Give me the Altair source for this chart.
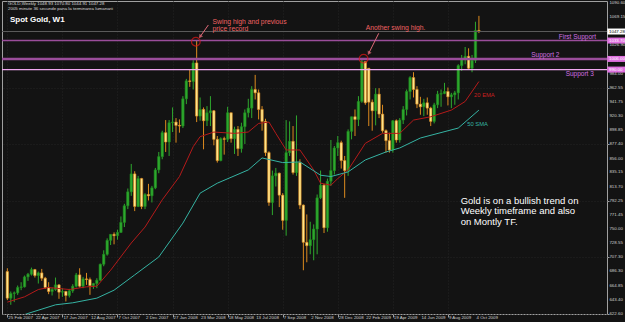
import altair as alt
import pandas as pd

# ---------------- data ----------------
opens = [686,646,653,654,662,663,678,682,689,680,684,676,662,656,659,666,655,656,650,657,
         664,681,664,675,674,665,668,673,697,712,733,742,740,745,760,785,806,833,784,826,
         784,802,800,812,839,859,895,881,910,911,906,905,946,973,972,1000,920,930,913,925,
         928,885,853,886,885,925,886,900,871,904,925,932,960,955,930,912,865,790,830,834,
         801,763,865,882,835,850,786,730,725,734,750,797,816,752,822,838,872,880,853,838,
         897,919,915,942,1002,992,941,928,953,923,898,883,869,913,884,914,930,957,978,960,
         938,934,940,932,912,937,953,954,957,949,952,955,996,1006,1010,992,1004,1048.93]
highs = [691,656,656,665,670,680,684,692,690,686,690,678,670,662,677,667,661,657,660,667,
         684,691,678,684,677,669,676,698,718,736,742,745,749,769,788,811,848,837,830,827,
         804,818,815,842,866,898,914,914,933,917,915,950,976,990,1004,1033,948,933,935,950,
         929,890,888,889,934,925,904,905,910,930,946,965,982,960,935,916,867,838,842,835,
         804,914,912,905,921,855,787,772,761,757,802,838,818,826,884,875,890,883,860,900,
         919,930,950,1007,1000,949,945,962,962,937,900,895,914,915,917,935,960,980,986,965,
         949,946,948,934,940,958,960,970,963,955,958,998,1012,1024,1022,1012,1062,1070.80]
lows = [643,636,640,651,658,662,672,680,677,668,672,660,652,650,657,645,648,641,647,654,
        662,662,661,666,651,660,661,672,694,710,726,727,734,744,753,780,800,777,783,780,
        780,793,790,810,834,855,866,860,896,880,895,902,938,964,960,911,913,870,905,905,
        876,850,852,862,881,880,863,860,865,878,918,917,945,915,898,860,785,771,814,783,
        749,740,860,832,830,780,688,700,712,703,712,795,744,746,815,832,860,841,797,830,
        885,890,905,940,937,905,898,906,917,895,865,865,865,880,880,908,921,945,948,932,
        922,920,922,905,909,932,934,953,936,932,937,945,988,998,990,986,1000,1044.91]
closes = [646,653,654,662,663,678,682,689,680,684,676,662,656,659,666,655,656,650,657,664,
          681,664,675,674,665,668,673,697,712,733,742,740,745,760,785,806,833,784,826,784,
          802,800,812,839,859,895,881,910,911,906,905,946,973,972,1000,920,930,913,925,928,
          885,853,886,885,925,886,900,871,904,925,932,960,955,930,912,865,790,830,834,801,
          763,865,882,835,850,786,730,725,734,750,797,816,752,822,838,872,880,853,838,897,
          919,915,942,1002,940,941,928,953,923,898,883,869,913,884,914,930,957,978,960,938,
          934,940,932,912,937,953,954,957,949,952,955,996,1006,1010,992,1004,1049,1047.28]

# moving averages (week index, price)
ema_idx = [0,5,9,12,18,23,26,30,36,40,45,50,54,56,60,66,70,73,76,78,81,85,89,91,94,96,99,104,109,114,118,123,129,133,137]
ema_val = [640,648,659,662,659,663,664,688,729,753,794,829,874,889,896,894,896,909,911,894,869,869,839,819,816,826,839,879,894,894,914,919,929,942,972]
sma_idx = [0,6,14,19,26,31,37,44,51,56,61,70,74,80,85,91,94,99,104,110,114,120,131,137]
sma_val = [612,623,636,639,646,658,681,708,759,804,819,839,857,850,851,831,829,836,854,866,872,887,902,929]

x_labels = ["25 Feb 2007","22 Apr 2007","17 Jun 2007","12 Aug 2007","7 Oct 2007","2 Dec 2007",
            "27 Jan 2008","23 Mar 2008","18 May 2008","13 Jul 2008","7 Sep 2008","2 Nov 2008",
            "28 Dec 2008","22 Feb 2009","19 Apr 2009","14 Jun 2009","9 Aug 2009","4 Oct 2009"]
x_label_idx = list(range(0, 8 * len(x_labels), 8))
y_ticks = [622.60,643.40,664.85,686.30,707.30,728.55,750.00,771.45,792.25,813.70,835.15,856.00,
           877.40,898.85,920.30,941.75,962.55,984.00,1005.45,1026.90,1048.35,1069.15,1090.60]

support_names = ["First Support", "Support 2", "Support 3"]
support_prices = [1033.70, 1006.00, 990.00]
bid_price = 1047.28

# ---------------- styling ----------------
BG = "#131313"
GREEN = "#2ea82e"
BEAR_FILL = "#ffe58a"
BEAR_EDGE = "#dc8a1e"
AXIS_TXT = "#d0d0d0"
FONT = "Liberation Sans, Arial"

n = len(opens)
df = pd.DataFrame({"i": list(range(n)), "o": opens, "h": highs, "l": lows, "c": closes})
df["dir"] = ["up" if c >= o else "down" for o, c in zip(opens, closes)]
df["top"] = df[["o", "c"]].max(axis=1)
df["bot"] = df[["o", "c"]].min(axis=1)

X = alt.Scale(domain=[-0.1, 172.76], nice=False, zero=False)
Y = alt.Scale(domain=[622.15, 1093.2], nice=False, zero=False)

xaxis = alt.Axis(values=x_label_idx, labels=False, orient="bottom", title=None,
                 tickColor="#a0a0a0", tickSize=3, domain=False,
                 grid=True, gridColor="#242424", gridDash=[1, 2])
yaxis = alt.Axis(values=y_ticks, labels=False, orient="right", title=None,
                 tickColor="#a0a0a0", tickSize=2, domain=False,
                 grid=True, gridColor="#242424", gridDash=[1, 2])

base = alt.Chart(df)
wicks = base.mark_rule(strokeWidth=1).encode(
    x=alt.X("i:Q", scale=X, axis=xaxis),
    y=alt.Y("l:Q", scale=Y, axis=yaxis),
    y2="h:Q",
    color=alt.Color("dir:N", scale=alt.Scale(domain=["up", "down"], range=[GREEN, BEAR_EDGE]), legend=None),
)
bodies = base.mark_bar(size=2.4, strokeWidth=0.6).encode(
    x="i:Q", y="bot:Q", y2="top:Q",
    fill=alt.Fill("dir:N", scale=alt.Scale(domain=["up", "down"], range=[GREEN, BEAR_FILL]), legend=None),
    stroke=alt.Stroke("dir:N", scale=alt.Scale(domain=["up", "down"], range=["#1f8a1f", BEAR_EDGE]), legend=None),
)

ema = alt.Chart(pd.DataFrame({"i": ema_idx, "v": ema_val})).mark_line(
    color="#b41a1a", strokeWidth=1, clip=True).encode(x="i:Q", y="v:Q")
sma = alt.Chart(pd.DataFrame({"i": sma_idx, "v": sma_val})).mark_line(
    color="#35b3a3", strokeWidth=1, clip=True).encode(x="i:Q", y="v:Q")

bid = alt.Chart(pd.DataFrame({"p": [bid_price]})).mark_rule(color="#5a5a5a", strokeWidth=1).encode(y="p:Q")
sup_df = pd.DataFrame({"p": support_prices, "col": ["#9a4d9a", "#9a4d9a", "#f0a8f0"],
                       "w": [1.6, 2.6, 1.3]})
sup_lines = alt.Chart(sup_df).mark_rule().encode(
    y="p:Q", color=alt.Color("col:N", scale=None),
    strokeWidth=alt.StrokeWidth("w:Q", scale=None, legend=None))

sup_lab = alt.Chart(pd.DataFrame({"i": [160.2, 152.2, 162.2], "p": [1038.5, 1011.5, 983.3],
                                  "t": support_names})).mark_text(
    align="left", baseline="middle", fontSize=6.5, font=FONT, color="#d070e0").encode(
    x="i:Q", y="p:Q", text="t:N")

# annotations
red_txt = alt.Chart(pd.DataFrame({"i": [59.6, 59.6, 104.1], "p": [1062.3, 1051.8, 1052.5],
                                  "t": ["Swing high and previous", "price record", "Another swing high."]})).mark_text(
    align="left", baseline="middle", fontSize=6.8, font=FONT, color="#f06262").encode(
    x="i:Q", y="p:Q", text="t:N")

arrows = alt.Chart(pd.DataFrame({"i": [58.4, 107.9], "p": [1057.1, 1044.6],
                                 "i2": [56.0, 105.0], "p2": [1039.5, 1014.5]})).mark_rule(
    color="#e06a78", strokeWidth=1).encode(x="i:Q", y="p:Q", x2="i2:Q", y2="p2:Q")
heads = alt.Chart(pd.DataFrame({"i": [56.0, 105.0], "p": [1039.5, 1014.5], "a": [216, 208]})).mark_point(
    shape="triangle-up", filled=True, size=20, color="#e06a78").encode(
    x="i:Q", y="p:Q", angle=alt.Angle("a:Q", scale=None))
circles = alt.Chart(pd.DataFrame({"i": [54.76, 103.5], "p": [1031.9, 1006.4]})).mark_point(
    shape="circle", filled=False, size=75, strokeWidth=1.2, color="#e01818").encode(x="i:Q", y="p:Q")

ma_lab = alt.Chart(pd.DataFrame({"i": [135.6, 133.6], "p": [951.7, 907.6], "t": ["20 EMA", "50 SMA"],
                                 "col": ["#c82020", "#35b3a3"]})).mark_text(
    align="left", baseline="middle", fontSize=5.8, font=FONT).encode(
    x="i:Q", y="p:Q", text="t:N", color=alt.Color("col:N", scale=None))

note = alt.Chart(pd.DataFrame({"i": [131.7, 131.7, 131.7], "p": [792.7, 776.8, 760.7],
                               "t": ["Gold is on a bullish trend on", "Weekly timeframe and also", "on Montly TF."]})).mark_text(
    align="left", baseline="middle", fontSize=9.5, font=FONT, color="#ffffff").encode(
    x="i:Q", y="p:Q", text="t:N")

head_small = alt.Chart(pd.DataFrame({"i": [0.2, 0.2], "p": [1088.2, 1081.0],
                                     "t": ["GOLD,Weekly  1048.93 1070.80 1044.91 1047.28",
                                           "2005 minute 36 secunde pana la terminarea lumanarii"]})).mark_text(
    align="left", baseline="middle", font=FONT, fontSize=4.4, color="#d8d8d8").encode(
    x="i:Q", y="p:Q", text="t:N")
title = alt.Chart(pd.DataFrame({"i": [0.75], "p": [1064.6], "t": ["Spot Gold, W1"]})).mark_text(
    align="left", baseline="middle", font=FONT, fontSize=8, fontWeight="bold", color="#ffffff").encode(
    x="i:Q", y="p:Q", text="t:N")

# axis labels (drawn as text so every one of them shows)
xlab = alt.Chart(pd.DataFrame({"i": x_label_idx, "t": x_labels})).mark_text(
    align="left", baseline="middle", font=FONT, fontSize=4.4, dx=1, color=AXIS_TXT).encode(
    x="i:Q", y=alt.value(317.3), text="t:N")
ylab = alt.Chart(pd.DataFrame({"p": y_ticks, "t": ["%.2f" % v for v in y_ticks]})).mark_text(
    align="left", baseline="middle", font=FONT, fontSize=4.4, color=AXIS_TXT).encode(
    x=alt.value(607.4), y="p:Q", text="t:N")

# price boxes on right axis
box_df = pd.DataFrame({"p": [bid_price] + support_prices,
                       "t": ["%.2f" % v for v in [bid_price] + support_prices],
                       "bg": ["#ffffff", "#e070e0", "#e070e0", "#e070e0"],
                       "fg": ["#000000", "#ffffff", "#ffffff", "#ffffff"]})
box_df["p1"] = box_df["p"] + 4.5
box_df["p2"] = box_df["p"] - 4.5
boxes = alt.Chart(box_df).mark_rect().encode(
    x=alt.value(605.3), x2=alt.value(623), y="p1:Q", y2="p2:Q", color=alt.Color("bg:N", scale=None))
box_txt = alt.Chart(box_df).mark_text(align="left", baseline="middle", font=FONT, fontSize=4.4).encode(
    x=alt.value(607.0), y="p:Q", text="t:N", color=alt.Color("fg:N", scale=None))

chart = alt.layer(
    wicks, bodies, ema, sma, bid, sup_lines, sup_lab, red_txt, arrows, heads, circles,
    ma_lab, note, head_small, title, xlab, ylab, boxes, box_txt
).properties(
    width=605, height=313,
    autosize=alt.AutoSizeParams(type="none"),
    padding={"left": 2, "top": 1, "right": 18, "bottom": 8},
    background=BG,
).configure_view(stroke="#a0a0a0", strokeWidth=1, fill=BG)

chart.save("out.html", embed_options={"renderer": "svg", "actions": False})
